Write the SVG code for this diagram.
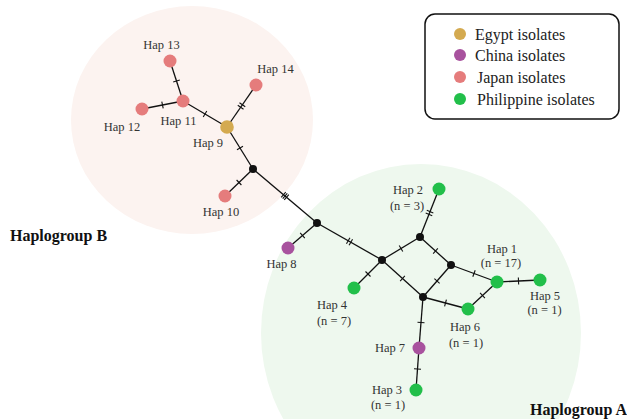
<svg xmlns="http://www.w3.org/2000/svg" width="627" height="419" viewBox="0 0 627 419">
<style>
.lbl{font-family:"Liberation Serif","Times New Roman",serif;font-size:12.5px;fill:#333;text-anchor:middle}
.grp{font-family:"Liberation Serif","Times New Roman",serif;font-size:16px;font-weight:bold;fill:#111}
.leg{font-family:"Liberation Serif","Times New Roman",serif;font-size:16px;fill:#222}
.e{stroke:#111;stroke-width:1.3;fill:none}
.t{stroke:#111;stroke-width:1.1}
.mv{fill:#111}
.eg{fill:#D4AA50}
.cn{fill:#A8529E}
.jp{fill:#E57C7C}
.ph{fill:#22BF4A}
</style>
<rect width="627" height="419" fill="#fff"/>
<g id="bg">
<ellipse cx="192" cy="120" rx="121" ry="114" fill="#FCF3F0"/>
<ellipse cx="421" cy="333" rx="160" ry="169" fill="#EEF8EE"/>
</g>
<g id="connectors">
<line class="e" x1="170" y1="61" x2="183" y2="101"/>
<line class="e" x1="142" y1="109" x2="183" y2="101"/>
<line class="e" x1="183" y1="101" x2="227" y2="127"/>
<line class="e" x1="256" y1="85" x2="227" y2="127"/>
<line class="e" x1="227" y1="127" x2="253" y2="169"/>
<line class="e" x1="253" y1="169" x2="225" y2="196"/>
<line class="e" x1="253" y1="169" x2="317" y2="223"/>
<line class="e" x1="317" y1="223" x2="288" y2="248"/>
<line class="e" x1="317" y1="223" x2="382" y2="260"/>
<line class="e" x1="382" y1="260" x2="354" y2="288"/>
<line class="e" x1="382" y1="260" x2="420" y2="237"/>
<line class="e" x1="382" y1="260" x2="423" y2="297"/>
<line class="e" x1="420" y1="237" x2="439" y2="189"/>
<line class="e" x1="420" y1="237" x2="451" y2="265"/>
<line class="e" x1="451" y1="265" x2="423" y2="297"/>
<line class="e" x1="451" y1="265" x2="497" y2="282"/>
<line class="e" x1="497" y1="282" x2="540" y2="280"/>
<line class="e" x1="497" y1="282" x2="468" y2="309"/>
<line class="e" x1="423" y1="297" x2="468" y2="309"/>
<line class="e" x1="423" y1="297" x2="419" y2="348"/>
<line class="e" x1="419" y1="348" x2="416" y2="390"/>
<g id="ticks">
<line class="t" x1="173.2" y1="82.1" x2="179.8" y2="79.9"/>
<line class="t" x1="161.8" y1="101.6" x2="163.2" y2="108.4"/>
<line class="t" x1="203.2" y1="117" x2="206.8" y2="111"/>
<line class="t" x1="237.77" y1="105.24" x2="243.53" y2="109.22"/>
<line class="t" x1="239.47" y1="102.78" x2="245.23" y2="106.76"/>
<line class="t" x1="237" y1="149.8" x2="243" y2="146.2"/>
<line class="t" x1="236.6" y1="180" x2="241.4" y2="185"/>
<line class="t" x1="281.21" y1="197.39" x2="285.73" y2="192.03"/>
<line class="t" x1="282.74" y1="198.68" x2="287.26" y2="193.32"/>
<line class="t" x1="284.27" y1="199.97" x2="288.79" y2="194.61"/>
<line class="t" x1="300.2" y1="232.85" x2="304.8" y2="238.15"/>
<line class="t" x1="346.47" y1="243.8" x2="349.93" y2="237.72"/>
<line class="t" x1="349.07" y1="245.28" x2="352.53" y2="239.2"/>
<line class="t" x1="365.5" y1="271.5" x2="370.5" y2="276.5"/>
<line class="t" x1="399.2" y1="245.5" x2="402.8" y2="251.5"/>
<line class="t" x1="400.15" y1="281.1" x2="404.85" y2="275.9"/>
<line class="t" x1="425.69" y1="213.11" x2="432.21" y2="215.69"/>
<line class="t" x1="426.79" y1="210.31" x2="433.31" y2="212.89"/>
<line class="t" x1="433.15" y1="253.6" x2="437.85" y2="248.4"/>
<line class="t" x1="434.36" y1="278.69" x2="439.64" y2="283.31"/>
<line class="t" x1="472.8" y1="276.8" x2="475.2" y2="270.2"/>
<line class="t" x1="518.66" y1="284.5" x2="518.34" y2="277.5"/>
<line class="t" x1="480.1" y1="292.9" x2="484.9" y2="298.1"/>
<line class="t" x1="444.6" y1="306.4" x2="446.4" y2="299.6"/>
<line class="t" x1="417.5" y1="322.2" x2="424.5" y2="322.8"/>
<line class="t" x1="414" y1="368.75" x2="421" y2="369.25"/>
</g>
</g>
<g id="mv1"><circle class="mv" cx="253" cy="169" r="4"/></g>
<g id="mv2"><circle class="mv" cx="317" cy="223" r="4"/></g>
<g id="mv3"><circle class="mv" cx="382" cy="260" r="4"/></g>
<g id="mv4"><circle class="mv" cx="420" cy="237" r="4"/></g>
<g id="mv5"><circle class="mv" cx="451" cy="265" r="4"/></g>
<g id="mv6"><circle class="mv" cx="423" cy="297" r="4"/></g>
<g id="hap13"><circle class="jp" cx="170" cy="61" r="6.5"/><text class="lbl" x="161.5" y="49">Hap 13</text></g>
<g id="hap14"><circle class="jp" cx="256" cy="85" r="6.5"/><text class="lbl" x="275.5" y="73">Hap 14</text></g>
<g id="hap12"><circle class="jp" cx="142" cy="109" r="6.5"/><text class="lbl" x="122" y="131">Hap 12</text></g>
<g id="hap11"><circle class="jp" cx="183" cy="101" r="6.5"/><text class="lbl" x="178.5" y="125">Hap 11</text></g>
<g id="hap9"><circle class="eg" cx="227" cy="127" r="6.8"/><text class="lbl" x="208" y="147">Hap 9</text></g>
<g id="hap10"><circle class="jp" cx="225" cy="196" r="6.5"/><text class="lbl" x="221" y="216">Hap 10</text></g>
<g id="hap8"><circle class="cn" cx="288" cy="248" r="6.5"/><text class="lbl" x="281.5" y="268">Hap 8</text></g>
<g id="hap2"><circle class="ph" cx="439" cy="189" r="6.5"/><text class="lbl" x="408" y="194">Hap 2</text><text class="lbl" x="407" y="210">(n = 3)</text></g>
<g id="hap4"><circle class="ph" cx="354" cy="288" r="6.5"/><text class="lbl" x="332" y="309">Hap 4</text><text class="lbl" x="334" y="325">(n = 7)</text></g>
<g id="hap1"><circle class="ph" cx="497" cy="282" r="6.5"/><text class="lbl" x="502" y="253">Hap 1</text><text class="lbl" x="501" y="267">(n = 17)</text></g>
<g id="hap5"><circle class="ph" cx="540" cy="280" r="6.5"/><text class="lbl" x="545" y="300">Hap 5</text><text class="lbl" x="544.5" y="314">(n = 1)</text></g>
<g id="hap6"><circle class="ph" cx="468" cy="309" r="6.5"/><text class="lbl" x="465" y="331">Hap 6</text><text class="lbl" x="466" y="347">(n = 1)</text></g>
<g id="hap7"><circle class="cn" cx="419" cy="348" r="6.5"/><text class="lbl" x="390" y="352">Hap 7</text></g>
<g id="hap3"><circle class="ph" cx="416" cy="390" r="6.5"/><text class="lbl" x="387" y="394">Hap 3</text><text class="lbl" x="388" y="409">(n = 1)</text></g>
<g id="groupB"><text class="grp" x="10" y="241">Haplogroup B</text></g>
<g id="groupA"><text class="grp" x="530" y="415">Haplogroup A</text></g>
<g id="legend">
<rect x="425" y="14" width="194" height="105" rx="10" ry="10" fill="#fff" stroke="#111" stroke-width="1.5"/>
<circle class="eg" cx="460" cy="34" r="6"/><text class="leg" x="475" y="39.5">Egypt isolates</text>
<circle class="cn" cx="460" cy="55" r="6"/><text class="leg" x="475" y="60.5">China isolates</text>
<circle class="jp" cx="460" cy="77" r="6"/><text class="leg" x="477" y="82.5">Japan isolates</text>
<circle class="ph" cx="460" cy="99" r="6"/><text class="leg" x="477" y="104.5">Philippine isolates</text>
</g>
</svg>
